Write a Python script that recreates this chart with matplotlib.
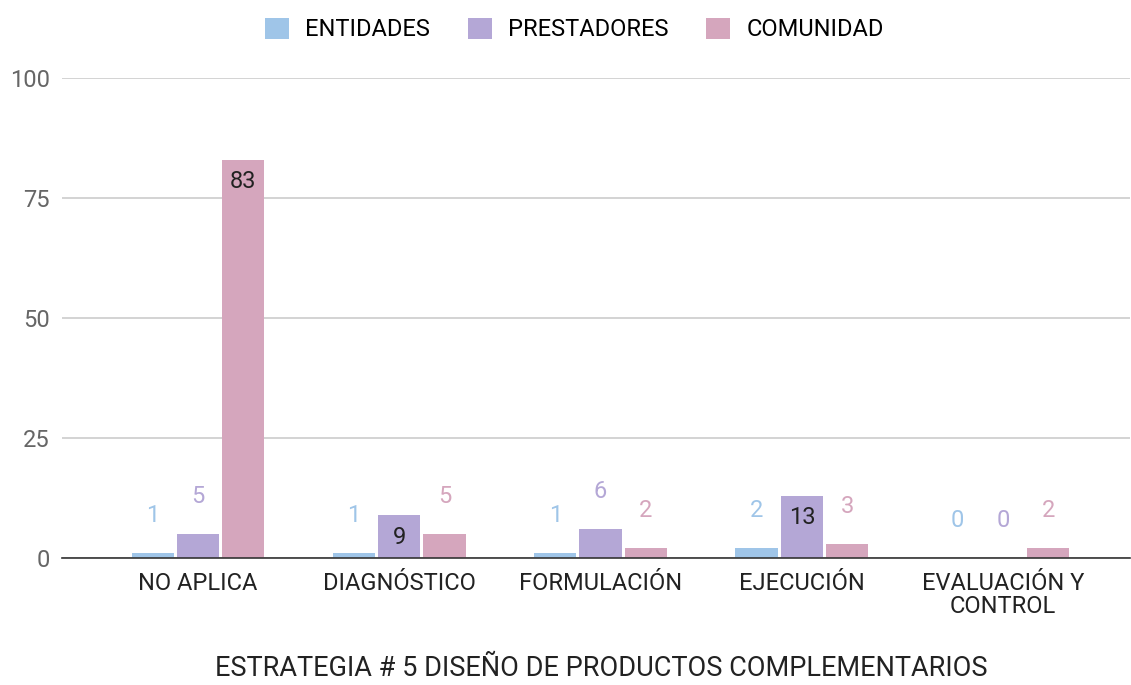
import matplotlib.pyplot as plt
import numpy as np

categories = ["NO APLICA", "DIAGNÓSTICO", "FORMULACIÓN", "EJECUCIÓN", "EVALUACIÓN Y\nCONTROL"]
series = ["ENTIDADES", "PRESTADORES", "COMUNIDAD"]
entidades = [1, 1, 1, 2, 0]
prestadores = [5, 9, 6, 13, 0]
comunidad = [83, 5, 2, 3, 2]
colors = ["#9fc5e8", "#b4a7d6", "#d5a6bd"]

plt.rcParams['font.family'] = ['Roboto', 'DejaVu Sans']

fig = plt.figure(figsize=(11.31, 6.85), dpi=100)
ax = fig.add_axes([0.055, 0.1854, 0.944, 0.7007])

x = np.arange(len(categories))
width = 0.21
gap = 0.015
values = [entidades, prestadores, comunidad]

for i, (name, vals, col) in enumerate(zip(series, values, colors)):
    pos = x + (i - 1) * (width + gap)
    bars = ax.bar(pos, vals, width, color=col, label=name, zorder=3)
    for b, v in zip(bars, vals):
        cx = b.get_x() + b.get_width() / 2
        if v >= 9:
            # label inside the bar
            ax.annotate(str(v), (cx, v), xytext=(0, -16), textcoords="offset points",
                        ha="center", va="center", fontsize=17, color="#222222", zorder=4)
        else:
            ax.annotate(str(v), (cx, v), xytext=(0, 27), textcoords="offset points",
                        ha="center", va="center", fontsize=17, color=col, zorder=4)

ax.set_ylim(0, 100)
ax.set_xlim(-0.675, 4.63)
ax.set_yticks([0, 25, 50, 75, 100])
ax.yaxis.grid(True, color="#cccccc", linewidth=1.2, zorder=0)
ax.set_xticks(x)
ax.set_xticklabels(categories, fontsize=17, color="#222222", linespacing=1.0)
ax.tick_params(axis="y", labelsize=17, labelcolor="#666666", length=0, pad=9)
ax.tick_params(axis="x", length=0, pad=10)
for s in ["top", "right", "left"]:
    ax.spines[s].set_visible(False)
ax.spines["bottom"].set_color("#333333")
ax.spines["bottom"].set_linewidth(1.2)
ax.spines["bottom"].set_zorder(5)

fig.text(0.532, 0.024, "ESTRATEGIA # 5 DISEÑO DE PRODUCTOS COMPLEMENTARIOS",
         fontsize=19.5, color="#222222", ha="center", va="center")

fig.legend(loc="upper center", bbox_to_anchor=(0.508, 1.005), ncol=3, frameon=False,
           fontsize=17, handlelength=1.0, handleheight=1.0, columnspacing=1.6, handletextpad=0.7)

fig.savefig("out.png", dpi=100)
